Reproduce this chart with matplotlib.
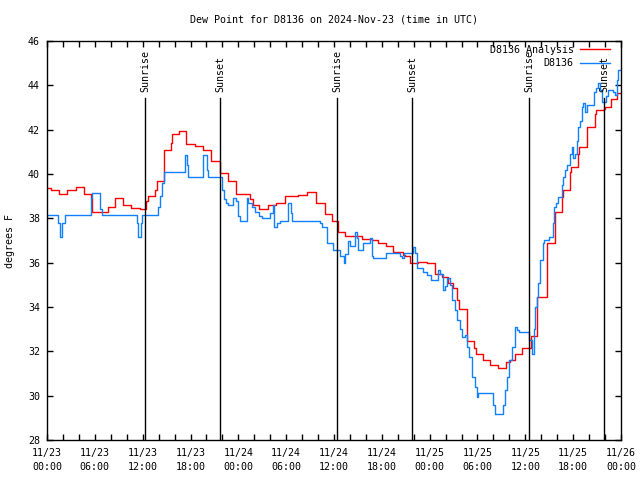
import matplotlib

matplotlib.use("Agg")
import matplotlib.pyplot as plt
from matplotlib.ticker import FixedLocator, MultipleLocator

# hours since 2024-11-23 00:00 UTC
analysis_hours = [
    0.0, 0.5, 1.5, 2.5, 3.6, 4.6, 5.5, 5.65, 7.65, 8.5, 9.5, 10.5, 11.7, 12.4,
    12.7, 13.5, 13.8, 14.7, 15.55, 15.7, 16.55, 17.45, 18.55, 19.6, 20.6, 21.7,
    22.7, 23.7, 25.5, 25.85, 26.6, 27.7, 28.7, 29.85, 31.5, 32.6, 33.75, 34.9,
    35.75, 36.5, 37.4, 39.5, 40.8, 41.5, 42.5, 43.4, 44.65, 44.9, 45.5, 46.5,
    47.7, 48.7, 49.55, 50.3, 50.9, 51.4, 51.7, 52.7, 53.55, 53.8, 54.7, 55.6,
    56.6, 57.6, 58.1, 58.7, 59.6, 60.7, 61.5, 62.7, 63.7, 64.6, 64.7, 65.6,
    65.7, 66.6, 66.7, 67.7, 68.7, 68.9, 69.9, 70.0, 70.75, 71.5, 72.0,
]
analysis_temps = [
    39.35, 39.27, 39.1, 39.27, 39.4, 39.1, 38.9, 38.3, 38.5, 38.9, 38.6, 38.45,
    38.4, 38.8, 39.0, 39.3, 39.7, 41.1, 41.4, 41.8, 41.95, 41.35, 41.26, 41.1,
    40.6, 40.05, 39.7, 39.1, 38.85, 38.6, 38.4, 38.6, 38.7, 39.0, 39.05, 39.2,
    38.7, 38.2, 37.9, 37.4, 37.2, 37.07, 37.0, 36.9, 36.75, 36.5, 36.35, 36.3,
    36.0, 36.05, 36.0, 35.5, 35.35, 35.1, 34.85, 34.3, 33.9, 32.47, 32.15,
    31.9, 31.6, 31.4, 31.25, 31.5, 31.6, 31.9, 32.15, 32.7, 34.45, 36.9, 38.3,
    38.97, 39.3, 40.1, 40.3, 40.9, 41.2, 42.1, 42.7, 42.9, 42.95, 43.0, 43.4,
    43.65, 43.65,
]

obs_hours = [
    0.0, 1.4, 1.65, 1.9, 2.25, 5.5, 5.65, 6.65, 6.9, 11.3, 11.4, 11.8, 11.9,
    13.9, 14.2, 14.4, 14.7, 17.3, 17.55, 17.7, 19.55, 20.05, 20.2, 21.95, 22.2,
    22.45, 22.7, 23.35, 23.7, 23.95, 24.2, 25.1, 25.2, 25.7, 26.1, 26.6, 27.0,
    28.0, 28.35, 28.5, 28.85, 29.2, 30.2, 30.6, 30.7, 34.25, 34.5, 35.1, 35.9,
    36.75, 37.25, 37.4, 37.75, 38.0, 38.6, 38.9, 39.0, 39.6, 40.5, 40.75, 40.9,
    42.5, 44.3, 44.55, 44.8, 45.9, 46.15, 46.4, 47.15, 47.65, 48.2, 49.05,
    49.3, 49.7, 49.9, 50.2, 50.55, 50.8, 51.2, 51.45, 51.8, 52.05, 52.4, 52.7,
    52.95, 53.3, 53.7, 53.95, 54.1, 55.95, 56.2, 57.2, 57.45, 57.7, 57.95,
    58.35, 58.7, 58.95, 59.2, 60.45, 60.8, 61.1, 61.2, 61.45, 61.6, 61.85,
    62.2, 62.35, 63.0, 63.5, 63.6, 63.85, 64.1, 64.6, 64.7, 65.0, 65.2, 65.6,
    65.85, 66.0, 66.2, 66.5, 66.6, 66.85, 67.1, 67.25, 67.5, 67.75, 68.6,
    68.85, 69.1, 69.35, 69.6, 70.1, 70.35, 71.0, 71.25, 71.5, 71.6, 72.0,
]
obs_temps = [
    38.15, 37.8, 37.15, 37.8, 38.15, 38.9, 39.15, 38.4, 38.15, 37.8, 37.15,
    37.8, 38.15, 38.5, 39.0, 39.6, 40.1, 40.86, 40.4, 39.85, 40.86, 40.2,
    39.85, 39.3, 38.85, 38.7, 38.6, 38.9, 38.8, 38.1, 37.9, 38.9, 38.7, 38.5,
    38.3, 38.1, 38.0, 38.25, 38.6, 37.6, 37.8, 37.9, 38.7, 38.25, 37.9, 37.8,
    37.6, 36.9, 36.55, 36.3, 36.0, 36.4, 36.97, 36.75, 37.4, 37.1, 36.55,
    36.9, 37.1, 36.3, 36.2, 36.45, 36.3, 36.2, 36.45, 36.7, 36.45, 35.75,
    35.6, 35.45, 35.2, 35.65, 35.5, 34.75, 34.95, 35.3, 35.0, 34.3, 33.85,
    33.4, 33.0, 32.65, 32.75, 32.2, 31.75, 30.85, 30.4, 29.95, 30.1, 29.6,
    29.17, 29.6, 30.25, 30.85, 31.6, 32.2, 33.1, 32.95, 32.87, 32.5, 31.9,
    33.0, 34.0, 34.45, 35.1, 36.1, 36.9, 37.0, 37.15, 37.8, 38.5, 38.7,
    38.96, 39.5, 39.86, 40.2, 40.4, 40.9, 41.2, 40.7, 40.9, 41.5, 42.1, 42.4,
    43.0, 43.2, 42.8, 43.1, 43.7, 43.9, 44.1, 43.8, 43.25, 43.5, 43.8, 43.7,
    43.55, 44.25, 44.7, 44.7,
]

sun_events = [(12.3, "Sunrise"), (21.7, "Sunset"), (36.4, "Sunrise"),
              (45.8, "Sunset"), (60.5, "Sunrise"), (69.9, "Sunset")]

tick_hours = [0, 6, 12, 18, 24, 30, 36, 42, 48, 54, 60, 66, 72]
tick_labels = [
    "11/23\n00:00", "11/23\n06:00", "11/23\n12:00", "11/23\n18:00",
    "11/24\n00:00", "11/24\n06:00", "11/24\n12:00", "11/24\n18:00",
    "11/25\n00:00", "11/25\n06:00", "11/25\n12:00", "11/25\n18:00",
    "11/26\n00:00",
]

font = "DejaVu Sans Mono"
fs = 7.2
plt.rcParams["font.family"] = font

fig = plt.figure(figsize=(6.4, 4.8), dpi=100)
ax = fig.add_axes([47 / 640, 40 / 480, 574 / 640, 399 / 480])

ax.plot(analysis_hours, analysis_temps, drawstyle="steps-post",
        color="#ff0000", linewidth=1.0, label="D8136 Analysis")
ax.plot(obs_hours, obs_temps, drawstyle="steps-post",
        color="#1080ff", linewidth=1.0, label="D8136")

### Sunrise / sunset markers
for hour, name in sun_events:
    ax.axvline(hour, ymin=0, ymax=0.857, color="black", linewidth=1.0)
    ax.text(hour, 0.872, name, transform=ax.get_xaxis_transform(),
            rotation=90, ha="center", va="bottom", fontsize=fs)

ax.set_xlim(0, 72)
ax.set_ylim(28, 46)
ax.xaxis.set_major_locator(FixedLocator(tick_hours))
ax.set_xticklabels(tick_labels, fontsize=fs, linespacing=1.5)
ax.xaxis.set_minor_locator(MultipleLocator(2))
ax.yaxis.set_major_locator(MultipleLocator(2))
ax.tick_params(axis="both", which="both", direction="in", top=True,
               right=True, length=4, width=1, labelsize=fs)
ax.tick_params(axis="x", which="major", pad=6)
ax.tick_params(axis="y", which="major", pad=5)
for spine in ax.spines.values():
    spine.set_linewidth(1.0)

ax.set_ylabel("degrees F", fontsize=fs)
ax.yaxis.set_label_coords(-0.056, 0.5)

fig.text(334 / 640, 1 - 19 / 480,
         "Dew Point for D8136 on 2024-Nov-23 (time in UTC)",
         ha="center", va="center", fontsize=fs)

ax.legend(loc="upper right", bbox_to_anchor=(0.984, 0.995), frameon=False,
          markerfirst=False, fontsize=fs, handlelength=3.0,
          handletextpad=0.6, labelspacing=0.35, borderaxespad=0.0,
          borderpad=0.2)

fig.savefig("out.png", dpi=100)
